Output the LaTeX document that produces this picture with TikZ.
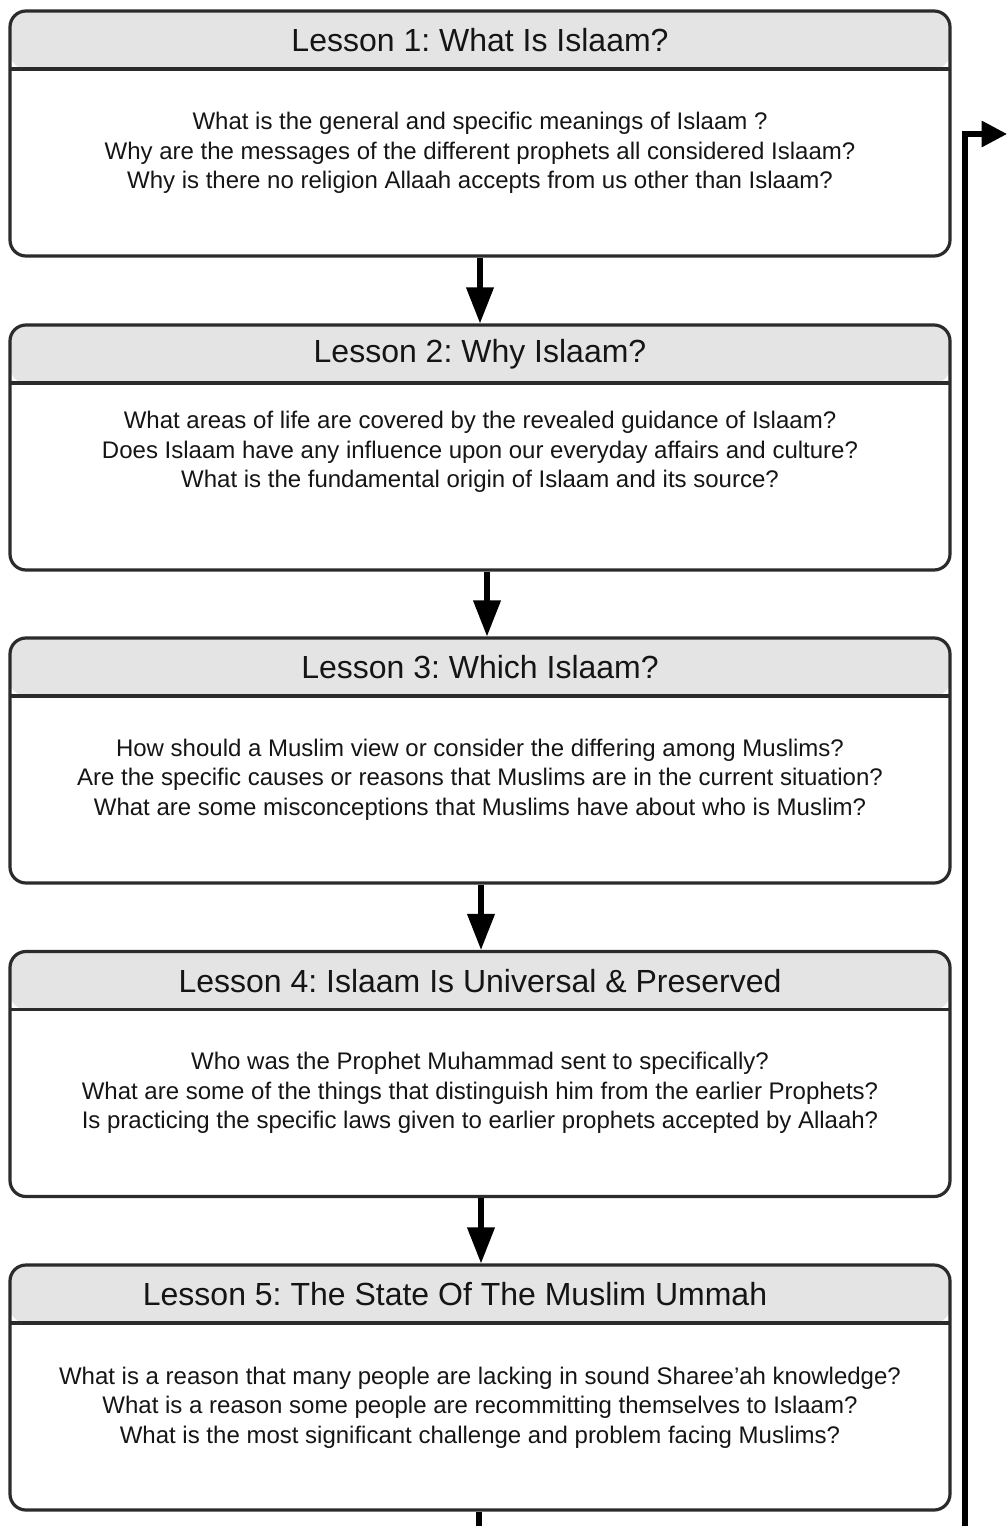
\documentclass[tikz,border=0pt]{standalone}
\usepackage{fontspec}
\setmainfont{Liberation Sans}
\usetikzlibrary{arrows.meta}
\frenchspacing
\definecolor{headgray}{HTML}{E4E4E4}
\definecolor{edgegray}{HTML}{2B2B2B}
\definecolor{inkgray}{HTML}{151515}
\tikzset{
  lessonbox/.style={draw=edgegray, line width=2.4pt, rounded corners=12pt,
    minimum width=705pt, minimum height=183.75pt, inner sep=0pt,
    path picture={
      \fill[headgray] (path picture bounding box.north west)
        rectangle ([yshift=-43.5pt]path picture bounding box.north east);
      \draw[edgegray, line width=2.4pt]
        ([yshift=-43.5pt]path picture bounding box.north west)
        -- ([yshift=-43.5pt]path picture bounding box.north east);
    }},
  lessontitle/.style={font=\fontsize{24}{28}\selectfont, text=inkgray, inner sep=0pt},
  lessonbody/.style={font=\fontsize{18}{22.2}\selectfont, text=inkgray, align=center, inner sep=0pt},
  flow/.style={line width=3.8pt, -{Triangle[width=20pt,length=27pt]}},
  returnflow/.style={line width=3.8pt, -{Triangle[width=19pt,length=19pt]}},
  returnline/.style={line width=3.8pt},
}
\begin{document}
\begin{tikzpicture}[x=0.75pt, y=-0.75pt]
\useasboundingbox (0,0) rectangle (1007,1526);

% lesson boxes
\node[lessonbox] (b1) at (480,133.5) {};
\node[lessonbox] (b2) at (480,447.5) {};
\node[lessonbox] (b3) at (480,760.5) {};
\node[lessonbox] (b4) at (480,1074) {};
\node[lessonbox] (b5) at (480,1387.5) {};

% headings
\node[lessontitle] (t1) at (480,40) {Lesson 1: What Is Islaam?};
\node[lessontitle] (t2) at (480,354) {Lesson 2: Why Islaam?};
\node[lessontitle] (t3) at (480,667.5) {Lesson 3: Which Islaam?};
\node[lessontitle] (t4) at (480,981) {Lesson 4: Islaam Is Universal \& Preserved};
\node[lessontitle] (t5) at (455,1294.5) {Lesson 5: The State Of The Muslim Ummah};

% questions
\node[lessonbody] (q1) at (480,153) {What is the general and specific meanings of Islaam ?\\
Why are the messages of the different prophets all considered Islaam?\\
Why is there no religion Allaah accepts from us other than Islaam?};
\node[lessonbody] (q2) at (480,452) {What areas of life are covered by the revealed guidance of Islaam?\\
Does Islaam have any influence upon our everyday affairs and culture?\\
What is the fundamental origin of Islaam and its source?};
\node[lessonbody] (q3) at (480,779.5) {How should a Muslim view or consider the differing among Muslims?\\
Are the specific causes or reasons that Muslims are in the current situation?\\
What are some misconceptions that Muslims have about who is Muslim?};
\node[lessonbody] (q4) at (480,1093) {Who was the Prophet Muhammad sent to specifically?\\
What are some of the things that distinguish him from the earlier Prophets?\\
Is practicing the specific laws given to earlier prophets accepted by Allaah?};
\node[lessonbody] (q5) at (480,1407.5) {What is a reason that many people are lacking in sound Sharee'ah knowledge?\\
What is a reason some people are recommitting themselves to Islaam?\\
What is the most significant challenge and problem facing Muslims?};

% flow between lessons
\draw[flow] (b1.south) -- (b2.north);
\draw[flow] ([xshift=5.25pt]b2.south) -- ([xshift=5.25pt]b3.north);
\draw[flow] ([xshift=0.75pt]b3.south) -- ([xshift=0.75pt]b4.north);
\draw[flow] ([xshift=0.75pt]b4.south) -- ([xshift=0.75pt]b5.north);

% continuation below and return path on the right
\coordinate (down) at (479,1526);
\coordinate (loopS) at (965,1526);
\coordinate (loopE) at (1007,134);
\draw[returnline] ([xshift=-0.75pt]b5.south) -- (down);
\draw[returnflow] (loopS) |- (loopE);
\end{tikzpicture}
\end{document}
